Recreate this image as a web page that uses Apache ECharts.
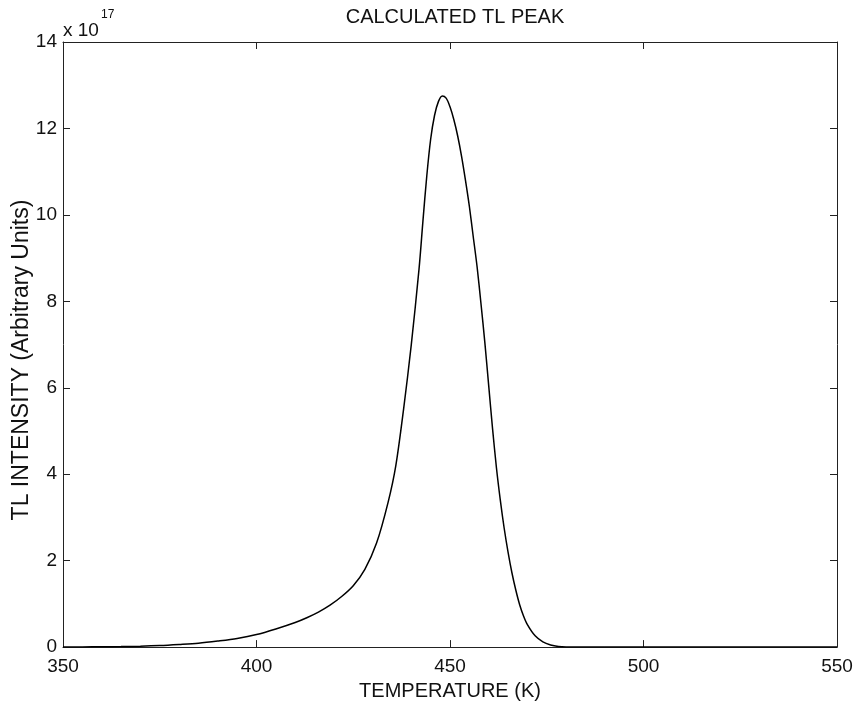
<!DOCTYPE html>
<html>
<head>
<meta charset="utf-8">
<script src="https://cdn.jsdelivr.net/npm/echarts@6/dist/echarts.min.js"></script>
<style>
html,body{margin:0;padding:0;background:#fff;}
#chart{width:856px;height:706px;}
</style>
</head>
<body>
<div id="chart"></div>
<script>
// Temperature (K)
var temperature = [350, 355, 360, 365, 370, 375, 380, 385, 390, 395, 400, 405, 410, 413, 416, 419, 422, 425, 428, 431, 434, 436, 438, 440, 442, 443, 444, 445, 446, 447, 448, 449, 450, 451, 452, 453, 454, 455, 456, 457, 458, 459, 460, 461, 462, 463, 464, 465, 466, 467, 468, 469, 470, 472, 474, 476, 478, 480, 490, 500, 550];
// TL intensity in units of 1e17
var intensity = [0.002, 0.004, 0.007, 0.012, 0.02, 0.035, 0.06, 0.09, 0.14, 0.2, 0.29, 0.42, 0.57, 0.68, 0.81, 0.97, 1.17, 1.42, 1.8, 2.4, 3.35, 4.2, 5.5, 7.0, 8.75, 9.85, 10.9, 11.75, 12.3, 12.62, 12.75, 12.7, 12.5, 12.2, 11.82, 11.35, 10.8, 10.2, 9.5, 8.8, 7.95, 7.05, 6.05, 5.05, 4.15, 3.4, 2.75, 2.2, 1.72, 1.32, 0.98, 0.72, 0.52, 0.26, 0.12, 0.05, 0.015, 0.004, 0, 0, 0];
var xTicks = [350, 400, 450, 500, 550];
var yTicks = [0, 2, 4, 6, 8, 10, 12, 14];
var titleText = 'CALCULATED TL PEAK';
var xName = 'TEMPERATURE (K)';
var yName = 'TL INTENSITY (Arbitrary Units)';

var points = temperature.map(function (t, i) { return [t, intensity[i]]; });
var font = 'Liberation Sans, Arial, sans-serif';
var lineCol = '#222';

var chart = echarts.init(document.getElementById('chart'), null, {renderer: 'canvas'});
function axisCommon(showLabel) {
  return {
    axisLine: {show: true, onZero: false, lineStyle: {color: lineCol, width: 1}},
    axisTick: {show: true, inside: true, length: 7, lineStyle: {color: lineCol}},
    splitLine: {show: false},
    axisLabel: {show: showLabel, color: '#111', fontSize: 19, fontFamily: font}
  };
}
var xa = Object.assign(axisCommon(true), {
  type: 'value', min: xTicks[0], max: xTicks[xTicks.length - 1], interval: 50, position: 'bottom',
  name: xName, nameLocation: 'middle', nameGap: 21,
  nameTextStyle: {color: '#111', fontSize: 20, fontFamily: font}
});
xa.axisLabel.margin = 10;
var xaTop = Object.assign(axisCommon(false), {type: 'value', min: xTicks[0], max: xTicks[xTicks.length - 1], interval: 50, position: 'top'});
var ya = Object.assign(axisCommon(true), {
  type: 'value', min: yTicks[0], max: yTicks[yTicks.length - 1], interval: 2, position: 'left'
});
ya.axisLabel.margin = 6;
var yaRight = Object.assign(axisCommon(false), {type: 'value', min: yTicks[0], max: yTicks[yTicks.length - 1], interval: 2, position: 'right'});

chart.setOption({
  backgroundColor: '#fff',
  animation: false,
  title: {
    text: titleText, left: 450, top: 2, textAlign: 'center',
    textStyle: {color: '#111', fontSize: 20, fontWeight: 'normal', fontFamily: font}
  },
  grid: {left: 63, right: 19, top: 42, bottom: 55, containLabel: false},
  xAxis: [xa, xaTop],
  yAxis: [ya, yaRight],
  graphic: [
    {type: 'text', left: 63, top: 21, style: {text: 'x 10', fontSize: 19, fontFamily: font, fill: '#111'}},
    {type: 'text', left: 101, top: 9, style: {text: '17', fontSize: 12, fontFamily: font, fill: '#111'}},
    {type: 'text', x: 22, y: 360, rotation: Math.PI / 2,
     style: {text: yName, fontSize: 23, fontFamily: font, fill: '#111', align: 'center', verticalAlign: 'middle'}}
  ],
  series: [{
    type: 'line', xAxisIndex: 0, yAxisIndex: 0, data: points,
    showSymbol: false, smooth: 0.3,
    lineStyle: {color: '#000', width: 1.5}
  }]
});
</script>
</body>
</html>
